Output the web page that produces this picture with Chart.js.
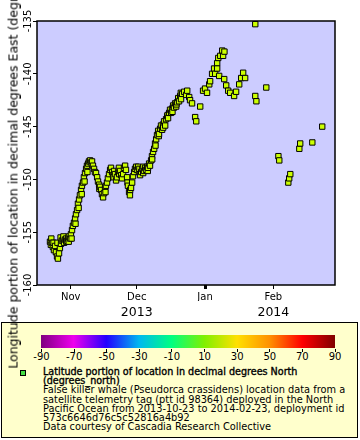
<!DOCTYPE html>
<html>
<head>
<meta charset="utf-8">
<script src="https://cdn.jsdelivr.net/npm/chart.js@4.4.0/dist/chart.umd.min.js"></script>
<style>
  html, body { margin: 0; padding: 0; background: #fff; }
  #wrap { position: relative; width: 360px; height: 440px; overflow: hidden; font-family: "DejaVu Sans", sans-serif; color: #000; }
  #legend { position: absolute; left: 1px; top: 322px; width: 355px; height: 114px; background: #ffffcc; border: 1px solid #000; }
  #bar { position: absolute; left: 41px; top: 335px; width: 294px; height: 13px; }
  .cbtick { position: absolute; top: 349px; width: 1px; height: 3px; background: #000; }
  .cblab { position: absolute; top: 352px; font-size: 10px; line-height: 10px; transform: translateX(-50%); white-space: nowrap; }
  #swatch { position: absolute; left: 20px; top: 370px; width: 4px; height: 4px; background: #44dd44; border: 1px solid #000; }
  #ltext { position: absolute; left: 43px; top: 367px; font-size: 9.8px; line-height: 9.2px; white-space: nowrap; }
  #ltext b { font-weight: normal; font-size: 9.6px; -webkit-text-stroke: 0.35px #000; }
  #chart { position: absolute; left: 0; top: 0; z-index: 2; }
  #ytitle { position: absolute; left: 12.5px; top: 153px; z-index: 3; font-size: 12.5px; white-space: nowrap;
            transform: translate(-50%, -50%) rotate(-90deg); }
</style>
</head>
<body>
<div id="wrap">
  <div id="legend"></div>
  <div id="bar"></div>
  <div id="swatch"></div>
  <div id="ltext">
    <b>Latitude portion of location in decimal degrees North</b><br>
    <b>(degrees_north)</b><br>
    False killer whale (Pseudorca crassidens) location data from a<br>
    satellite telemetry tag (ptt id 98364) deployed in the North<br>
    Pacific Ocean from 2013-10-23 to 2014-02-23, deployment id<br>
    573c6646d76c5c52816a4b92<br>
    Data courtesy of Cascadia Research Collective
  </div>
  <canvas id="chart" width="360" height="440"></canvas>
  <div id="ytitle">Longitude portion of location in decimal degrees East (degrees_east)</div>
</div>
<script>
const FONT = 'DejaVu Sans'

// x values are days since 2013-11-01
const monthTicks = [0, 30, 61, 92]
const monthLabels = ['Nov', 'Dec', 'Jan', 'Feb']
const yearTicks = [30, 92]
const yearLabels = ['2013', '2014']
const lonTicks = [-160, -155, -150, -145, -140, -135]

// colour bar (latitude)
const colorTicks = [-90, -70, -50, -30, -10, 10, 30, 50, 70, 90]
const colorStops = ['#800080', '#ee00ee', '#2200ff', '#00b8f0', '#00ff80', '#80f000', '#ffe000', '#ff9000', '#ff0000', '#800000']

// main track
const dayOffsets = [
  -9.4, -9.0, -8.5, -8.1, -7.6, -7.1, -6.7, -6.2, -5.8, -5.3, -4.9, -4.4, -4.0, -3.5, -3.0, -2.6, -2.1, -1.7, -1.2, -0.8,
  -0.3, 0.1, 0.6, 1.0, 1.5, 2.0, 2.4, 2.9, 3.3, 3.8, 4.2, 4.7, 5.1, 5.6, 6.0, 6.5, 7.0, 7.4, 7.9, 8.3,
  8.8, 9.2, 9.7, 10.1, 10.6, 11.0, 11.5, 12.0, 12.4, 12.9, 13.3, 13.8, 14.2, 14.7, 15.1, 15.6, 16.0, 16.5, 16.9, 17.4,
  17.9, 18.3, 18.8, 19.2, 19.7, 20.1, 20.6, 21.0, 21.5, 21.9, 22.4, 22.9, 23.3, 23.8, 24.2, 24.7, 25.1, 25.6, 26.0, 26.5,
  26.9, 27.4, 27.9, 28.3, 28.8, 29.2, 29.7, 30.1, 30.6, 31.0, 31.5, 32.0, 32.4, 32.9, 33.3, 33.8, 34.2, 34.7, 35.1, 35.6,
  36.0, 36.5, 36.9, 37.4, 37.9, 38.3, 38.8, 39.2, 39.7, 40.1, 40.6, 41.0, 41.5, 41.9, 42.4, 42.9, 43.3, 43.8, 44.2, 44.7,
  45.1, 45.6, 46.0, 46.5, 46.9, 47.4, 47.9, 48.3, 48.8, 49.2, 49.7, 50.1, 50.6, 51.5, 52.4, 52.9, 53.8, 54.2, 55.1, 56.5,
  57.0, 58.8, 60.1, 61.0, 61.9, 62.9, 63.3, 64.2, 65.1, 65.6, 66.5, 67.0, 67.9, 68.8, 69.2, 69.8, 66.5, 67.4, 69.7, 70.6,
  71.5, 72.4, 74.2, 75.1, 76.5, 77.4, 78.3, 79.2, 83.8, 84.3, 83.8, 88.8, 94.3, 94.7, 98.8, 99.2, 99.7, 103.8, 104.2, 109.7,
  114.2
]
const longitudes = [
  -155.9, -156.2, -156.0, -156.4, -156.7, -156.3, -156.9, -157.3, -157.5, -157.0, -156.5, -156.1, -155.8, -155.7, -156.0, -155.7, -155.6, -155.8, -155.6, -155.4,
  -155.6, -155.2, -154.8, -154.4, -154.1, -153.7, -153.3, -152.9, -152.3, -151.9, -151.5, -151.0, -150.6, -150.3, -149.8, -149.4, -149.0, -148.7, -148.5, -148.3,
  -148.2, -148.4, -148.3, -148.7, -149.0, -149.3, -149.4, -149.8, -150.2, -150.5, -150.7, -151.0, -151.4, -151.7, -151.3, -150.8, -150.6, -150.3, -149.9, -149.5,
  -149.1, -148.9, -149.3, -149.6, -149.2, -149.5, -150.1, -149.8, -149.3, -148.9, -149.2, -149.6, -149.9, -149.5, -148.9, -148.7, -149.1, -149.8, -150.6, -151.2,
  -151.5, -150.8, -150.3, -149.7, -149.3, -149.0, -148.8, -149.1, -148.8, -149.3, -149.6, -149.3, -149.0, -149.4, -149.2, -148.9, -149.1, -148.8, -148.9, -148.5,
  -148.7, -148.2, -147.8, -147.4, -147.1, -146.6, -146.2, -145.8, -145.4, -145.7, -145.2, -144.9, -145.3, -144.8, -144.5, -144.9, -144.3, -144.0, -144.2, -143.7,
  -143.4, -143.7, -143.3, -143.0, -143.2, -142.8, -143.1, -142.7, -142.3, -142.6, -142.1, -142.4, -141.9, -141.7, -142.0, -141.6, -142.2, -142.5, -142.8, -144.1,
  -144.5, -143.1, -141.6, -141.4, -141.8, -141.0, -140.7, -140.0, -139.5, -140.0, -139.0, -138.5, -138.3, -137.8, -138.3, -137.9, -139.5, -140.2, -140.5, -141.1,
  -141.6, -141.8, -142.1, -141.7, -141.0, -140.4, -139.9, -140.4, -142.1, -142.6, -135.3, -141.3, -147.8, -148.2, -150.3, -149.9, -149.5, -147.1, -146.6, -146.5,
  -145.0
]

// extra fixes in the dense parts of the track
const extraDays = [
  -8.8, -7.8, -6.0, -4.6, -3.3, -2.0, -0.9, 0.4, 2.2, 3.6, 5.0, 6.3, 7.6,
  13.0, 15.8, 19.5, 22.0, 25.8, 27.0, 31.2, 33.0, 35.0,
  37.0, 38.5, 40.0, 42.0, 44.0, 46.2, 48.0, 50.0
]
const extraLons = [
  -155.6, -156.0, -156.0, -155.5, -155.4, -155.9, -155.9, -155.6, -154.2, -152.7, -151.4, -150.2, -149.3,
  -150.9, -151.2, -149.8, -149.5, -150.3, -151.0, -149.0, -148.8, -149.2,
  -148.1, -146.8, -145.9, -145.1, -143.9, -143.6, -142.9, -141.8
]

// colour bar and its labels
const bar = document.getElementById('bar')
bar.style.background = 'linear-gradient(to right, ' +
  colorStops.map((c, i) => `${c} ${(i / (colorStops.length - 1) * 100).toFixed(2)}%`).join(', ') + ')'
const wrap = document.getElementById('wrap')
colorTicks.forEach((t, i) => {
  const x = 41 + i * 293.5 / (colorTicks.length - 1)
  const tick = document.createElement('div')
  tick.className = 'cbtick'
  tick.style.left = Math.round(x) + 'px'
  wrap.appendChild(tick)
  const lab = document.createElement('div')
  lab.className = 'cblab'
  lab.style.left = (x + 0.5) + 'px'
  lab.textContent = t
  wrap.appendChild(lab)
})

const plotBox = {
  id: 'plotBox',
  beforeDraw(chart) {
    const { ctx, chartArea: a } = chart
    ctx.save()
    ctx.fillStyle = '#ccccff'
    ctx.fillRect(a.left, a.top, a.width, a.height)
    ctx.restore()
  },
  afterDatasetsDraw(chart) {
    const { ctx, chartArea: a } = chart
    ctx.save()
    ctx.strokeStyle = '#000'
    ctx.lineWidth = 1.5
    ctx.strokeRect(a.left, a.top, a.width, a.height)
    ctx.restore()
  }
}

const points = dayOffsets.map((d, i) => ({ x: d, y: longitudes[i] }))
  .concat(extraDays.map((d, i) => ({ x: d, y: extraLons[i] })))
  .sort((a, b) => a.x - b.x)

new Chart(document.getElementById('chart'), {
  type: 'scatter',
  data: {
    datasets: [{
      data: points,
      pointStyle: 'rect',
      pointRadius: 3.8,
      backgroundColor: '#ccff00',
      borderColor: '#000',
      borderWidth: 1
    }]
  },
  plugins: [plotBox],
  options: {
    responsive: false,
    animation: false,
    events: [],
    devicePixelRatio: 1,
    layout: { padding: { top: 21, right: 25, bottom: 119, left: 0 } },
    plugins: { legend: { display: false }, tooltip: { enabled: false } },
    scales: {
      x: {
        type: 'linear', position: 'bottom', weight: 1,
        min: -15.3, max: 120,
        afterBuildTicks: s => { s.ticks = monthTicks.map(v => ({ value: v })) },
        afterFit: s => { s.height = 16 },
        ticks: {
          autoSkip: false, maxRotation: 0, padding: 2, color: '#000',
          font: { family: FONT, size: 10 },
          callback: (v, i) => monthLabels[i]
        },
        grid: {
          drawOnChartArea: false, tickLength: 4, tickColor: '#000',
          tickWidth: c => (c.tick && c.tick.value === 61) ? 3 : 1
        },
        border: { display: false }
      },
      x2: {
        type: 'linear', axis: 'x', position: 'bottom', weight: 2,
        min: -15.3, max: 120,
        afterBuildTicks: s => { s.ticks = yearTicks.map(v => ({ value: v })) },
        afterFit: s => { s.height = 20 },
        ticks: {
          autoSkip: false, maxRotation: 0, padding: 4, color: '#000',
          font: { family: FONT, size: 12.5 },
          callback: (v, i) => yearLabels[i]
        },
        grid: { display: false, drawTicks: false },
        border: { display: false }
      },
      y: {
        type: 'linear', position: 'left',
        min: -160, max: -135,
        afterBuildTicks: s => { s.ticks = lonTicks.map(v => ({ value: v })) },
        afterFit: s => { s.width = 37 },
        ticks: {
          minRotation: 90, maxRotation: 90, crossAlign: 'center', padding: -7,
          color: '#000', font: { family: FONT, size: 10 }
        },
        grid: { drawOnChartArea: false, tickLength: 4, tickColor: '#000' },
        border: { display: false }
      }
    }
  }
})
</script>
</body>
</html>
